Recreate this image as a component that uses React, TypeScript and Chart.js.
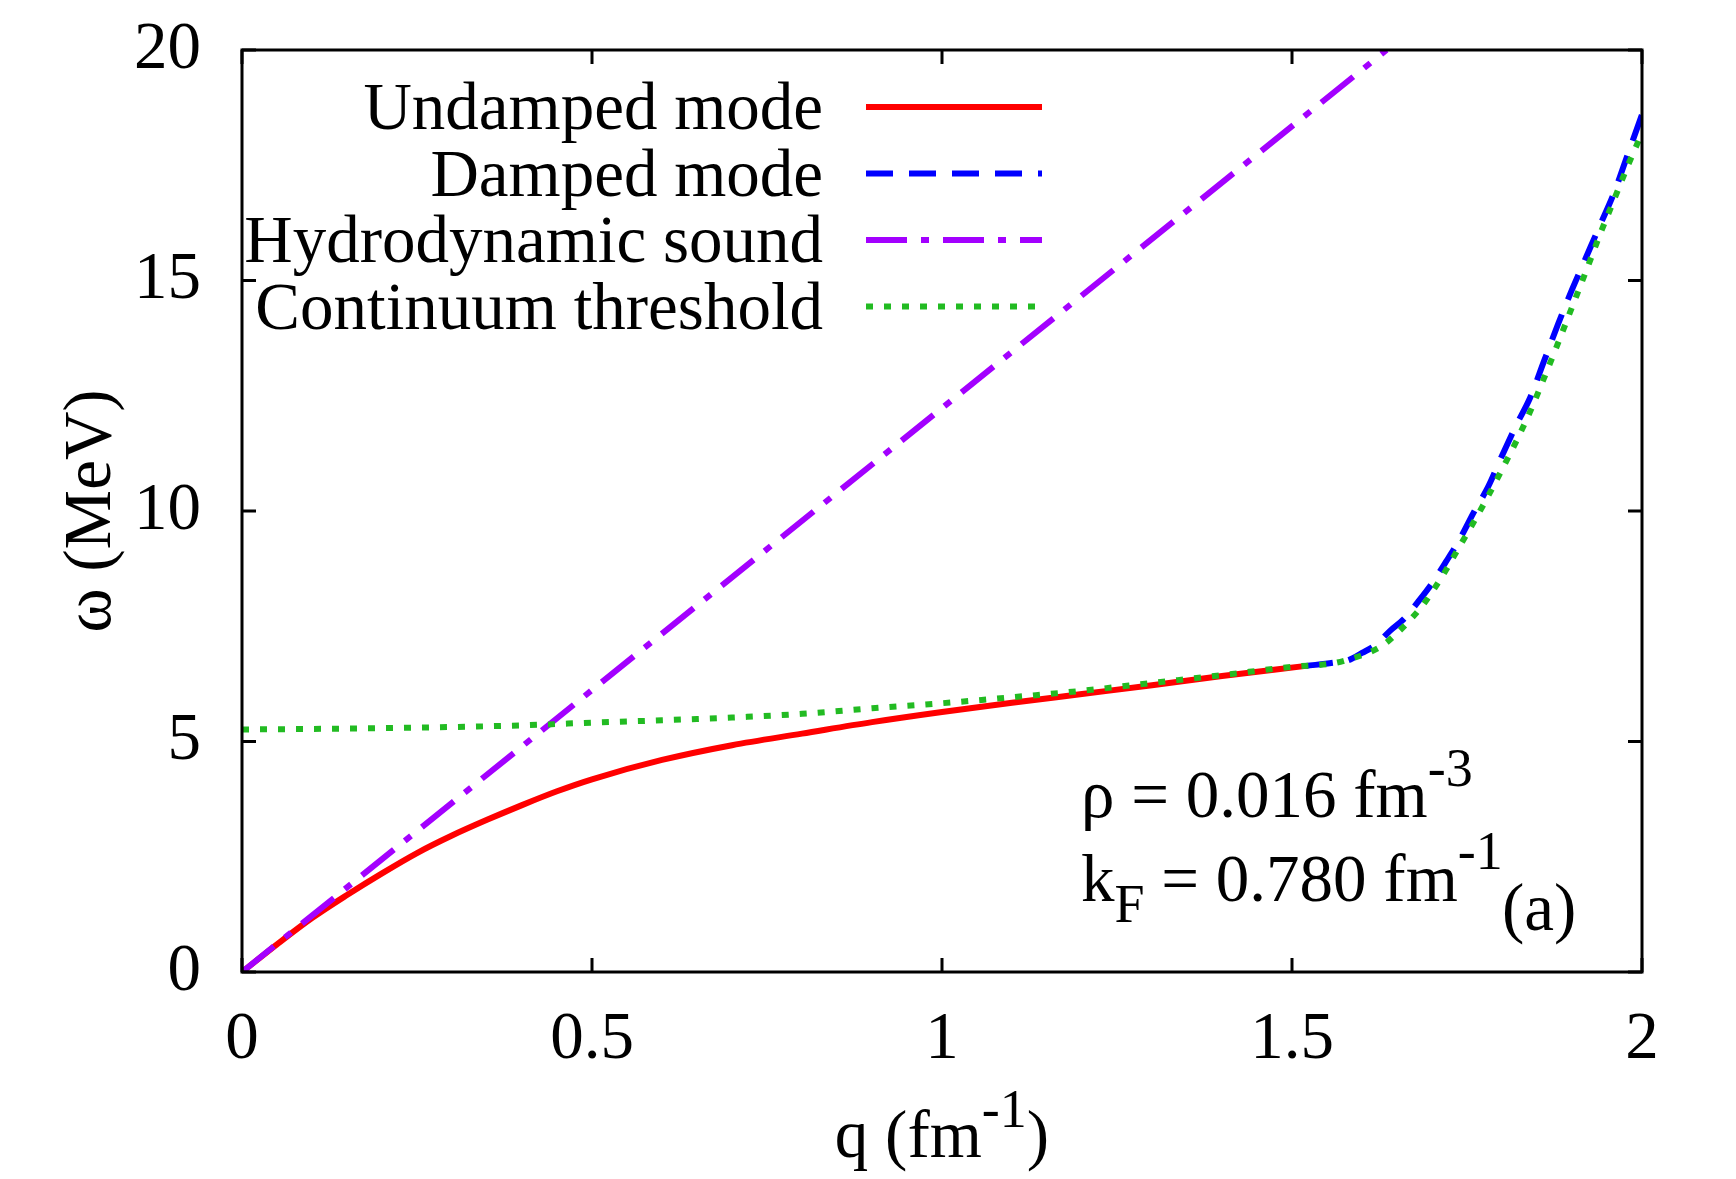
import React, { useEffect, useRef } from 'react';
import { Chart, registerables } from 'chart.js';

Chart.register(...registerables);

// ---- data ----
const undampedQ = [0, 0.05, 0.1, 0.15, 0.2, 0.25, 0.3, 0.35, 0.4, 0.45, 0.5, 0.6, 0.7, 0.8, 0.9, 1.0, 1.1, 1.2, 1.3, 1.4, 1.52];
const undampedW = [0, 0.6, 1.17, 1.67, 2.14, 2.58, 2.96, 3.3, 3.62, 3.92, 4.18, 4.6, 4.92, 5.17, 5.42, 5.64, 5.84, 6.03, 6.22, 6.42, 6.64];

const dampedQ = [1.52, 1.56, 1.58, 1.6, 1.62, 1.64, 1.66, 1.68, 1.7, 1.72, 1.74, 1.76, 1.78, 1.8, 1.82, 1.84, 1.86, 1.88, 1.9, 1.92, 1.94, 1.96, 1.98, 2.0];
const dampedW = [6.64, 6.71, 6.76, 6.92, 7.1, 7.4, 7.66, 8.03, 8.43, 8.9, 9.4, 9.98, 10.52, 11.2, 11.85, 12.45, 13.25, 14.05, 14.8, 15.5, 16.2, 16.9, 17.75, 18.6];

const hydroQ = [0, 1.635];
const hydroW = [0, 20];

const contQ = [0, 0.2, 0.4, 0.5, 0.6, 0.7, 0.8, 0.9, 1.0, 1.1, 1.2, 1.3, 1.4, 1.5, 1.56, 1.585, 1.61, 1.63, 1.65, 1.67, 1.685, 1.7, 1.72, 1.74, 1.76, 1.78, 1.8, 1.82, 1.84, 1.86, 1.88, 1.9, 1.92, 1.94, 1.96, 1.98, 2.0];
const contW = [5.26, 5.29, 5.35, 5.41, 5.46, 5.52, 5.6, 5.72, 5.83, 5.96, 6.1, 6.27, 6.44, 6.62, 6.7, 6.8, 6.93, 7.09, 7.35, 7.66, 7.92, 8.24, 8.72, 9.25, 9.77, 10.32, 10.9, 11.5, 12.15, 12.88, 13.64, 14.42, 15.2, 16.0, 16.75, 17.5, 18.2];

const seriesLabels = ['Undamped mode', 'Damped mode', 'Hydrodynamic sound', 'Continuum threshold'];

const xTickValues = [0, 0.5, 1, 1.5, 2];
const xTickLabels = ['0', '0.5', '1', '1.5', '2'];
const yTickValues = [0, 5, 10, 15, 20];
const yTickLabels = ['0', '5', '10', '15', '20'];

const FONT = '"Liberation Serif", "Times New Roman", serif';
const FS = 67;
const SS = 54;
const TICK_LEN = 14;

const toPoints = (q: number[], w: number[]) => q.map((v, i) => ({ x: v, y: w[i] }));

type Part = { t: string; size: number; dy: number };

function drawRich(ctx: CanvasRenderingContext2D, x: number, y: number, parts: Part[], align: 'left' | 'center' = 'left') {
  ctx.textBaseline = 'alphabetic';
  ctx.textAlign = 'left';
  let total = 0;
  const widths = parts.map((p) => {
    ctx.font = `${p.size}px ${FONT}`;
    const w = ctx.measureText(p.t).width;
    total += w;
    return w;
  });
  let cx = align === 'center' ? x - total / 2 : x;
  parts.forEach((p, i) => {
    ctx.font = `${p.size}px ${FONT}`;
    ctx.fillText(p.t, cx, y + p.dy);
    cx += widths[i];
  });
}

const decorPlugin = {
  id: 'decor',
  afterDatasetsDraw(chart: any) {
    const { ctx, chartArea: a, scales } = chart;
    const xs = scales.x;
    const ys = scales.y;
    ctx.save();
    ctx.strokeStyle = '#000';
    ctx.fillStyle = '#000';
    ctx.lineWidth = 3;
    ctx.lineCap = 'butt';
    ctx.setLineDash([]);
    ctx.beginPath();
    xTickValues.forEach((v) => {
      const p = xs.getPixelForValue(v);
      ctx.moveTo(p, a.bottom);
      ctx.lineTo(p, a.bottom - TICK_LEN);
      ctx.moveTo(p, a.top);
      ctx.lineTo(p, a.top + TICK_LEN);
    });
    yTickValues.forEach((v) => {
      const p = ys.getPixelForValue(v);
      ctx.moveTo(a.left, p);
      ctx.lineTo(a.left + TICK_LEN, p);
      ctx.moveTo(a.right, p);
      ctx.lineTo(a.right - TICK_LEN, p);
    });
    ctx.stroke();
    ctx.lineJoin = 'miter';
    ctx.strokeRect(a.left, a.top, a.right - a.left, a.bottom - a.top);

    // legend
    const textRight = a.left + 581;
    const lineStart = a.left + 624;
    const lineEnd = a.left + 800;
    chart.data.datasets.forEach((ds: any, i: number) => {
      const ly = a.top + 57 + i * 66.5;
      ctx.font = `${FS}px ${FONT}`;
      ctx.textAlign = 'right';
      ctx.textBaseline = 'alphabetic';
      ctx.fillStyle = '#000';
      ctx.fillText(ds.label, textRight, ly + 22);
      ctx.strokeStyle = ds.borderColor;
      ctx.lineWidth = ds.borderWidth;
      ctx.setLineDash(ds.borderDash || []);
      ctx.lineDashOffset = 0;
      ctx.beginPath();
      ctx.moveTo(lineStart, ly);
      ctx.lineTo(lineEnd, ly);
      ctx.stroke();
    });
    ctx.setLineDash([]);
    ctx.fillStyle = '#000';

    // annotation
    const ax = a.left + 839;
    drawRich(ctx, ax, a.top + 767, [
      { t: 'ρ = 0.016 fm', size: FS, dy: 0 },
      { t: '-3', size: SS, dy: -31 },
    ]);
    drawRich(ctx, ax, a.top + 851, [
      { t: 'k', size: FS, dy: 0 },
      { t: 'F', size: SS, dy: 21 },
      { t: ' = 0.780 fm', size: FS, dy: 0 },
      { t: '-1', size: SS, dy: -32 },
    ]);
    drawRich(ctx, a.left + 1260, a.top + 880, [{ t: '(a)', size: FS, dy: 0 }]);

    // x title
    drawRich(ctx, (a.left + a.right) / 2, a.bottom + 185, [
      { t: 'q (fm', size: FS, dy: 0 },
      { t: '-1', size: SS, dy: -30 },
      { t: ')', size: FS, dy: 0 },
    ], 'center');

    // y title
    ctx.save();
    ctx.translate(a.left - 132, (a.top + a.bottom) / 2);
    ctx.rotate(-Math.PI / 2);
    ctx.font = `${FS}px ${FONT}`;
    ctx.textAlign = 'center';
    ctx.textBaseline = 'alphabetic';
    ctx.fillText('ω (MeV)', 0, 0);
    ctx.restore();

    ctx.restore();
  },
};

export default function App() {
  const ref = useRef<HTMLCanvasElement | null>(null);
  useEffect(() => {
    if (!ref.current) return;
    const chart = new Chart(ref.current, {
      type: 'line',
      data: {
        datasets: [
          {
            label: seriesLabels[0],
            data: toPoints(undampedQ, undampedW),
            borderColor: '#ff0000',
            borderWidth: 6,
            pointRadius: 0,
            cubicInterpolationMode: 'monotone',
            order: 4,
          },
          {
            label: seriesLabels[1],
            data: toPoints(dampedQ, dampedW),
            borderColor: '#0000ff',
            borderWidth: 6,
            borderDash: [27, 16],
            pointRadius: 0,
            cubicInterpolationMode: 'monotone',
            order: 3,
          },
          {
            label: seriesLabels[2],
            data: toPoints(hydroQ, hydroW),
            borderColor: '#a300ff',
            borderWidth: 6,
            borderDash: [41, 14, 8, 14],
            pointRadius: 0,
            tension: 0,
            order: 2,
          },
          {
            label: seriesLabels[3],
            data: toPoints(contQ, contW),
            borderColor: '#22bb22',
            borderWidth: 6,
            borderDash: [7, 11],
            pointRadius: 0,
            cubicInterpolationMode: 'monotone',
            order: 1,
          },
        ] as any,
      },
      options: {
        responsive: false,
        animation: false,
        devicePixelRatio: 1,
        layout: { padding: { top: 50, right: 94, left: 0, bottom: 0 } },
        plugins: { legend: { display: false }, tooltip: { enabled: false } },
        scales: {
          x: {
            type: 'linear',
            min: 0,
            max: 2,
            afterFit: (s: any) => { s.height = 207; s.paddingLeft = 0; s.paddingRight = 0; },
            afterBuildTicks: (s: any) => { s.ticks = xTickValues.map((v) => ({ value: v })); },
            grid: { display: false, drawTicks: false },
            border: { display: false },
            ticks: {
              padding: 28,
              maxRotation: 0,
              autoSkip: false,
              color: '#000',
              font: { family: FONT, size: FS },
              callback: (v: any) => {
                const i = xTickValues.indexOf(Number(v));
                return i >= 0 ? xTickLabels[i] : '';
              },
            },
          },
          y: {
            type: 'linear',
            min: 0,
            max: 20,
            afterFit: (s: any) => { s.width = 242; s.paddingTop = 0; s.paddingBottom = 0; },
            afterBuildTicks: (s: any) => { s.ticks = yTickValues.map((v) => ({ value: v })); },
            grid: { display: false, drawTicks: false },
            border: { display: false },
            ticks: {
              padding: 41,
              autoSkip: false,
              color: '#000',
              font: { family: FONT, size: FS },
              callback: (v: any) => {
                const i = yTickValues.indexOf(Number(v));
                return i >= 0 ? yTickLabels[i] : '';
              },
            },
          },
        },
      } as any,
      plugins: [decorPlugin],
    });
    return () => chart.destroy();
  }, []);
  return (
    <div style={{ position: 'absolute', left: 0, top: 0, width: 1736, height: 1179, background: '#fff' }}>
      <canvas ref={ref} width={1736} height={1179} style={{ width: 1736, height: 1179, display: 'block' }} />
    </div>
  );
}
